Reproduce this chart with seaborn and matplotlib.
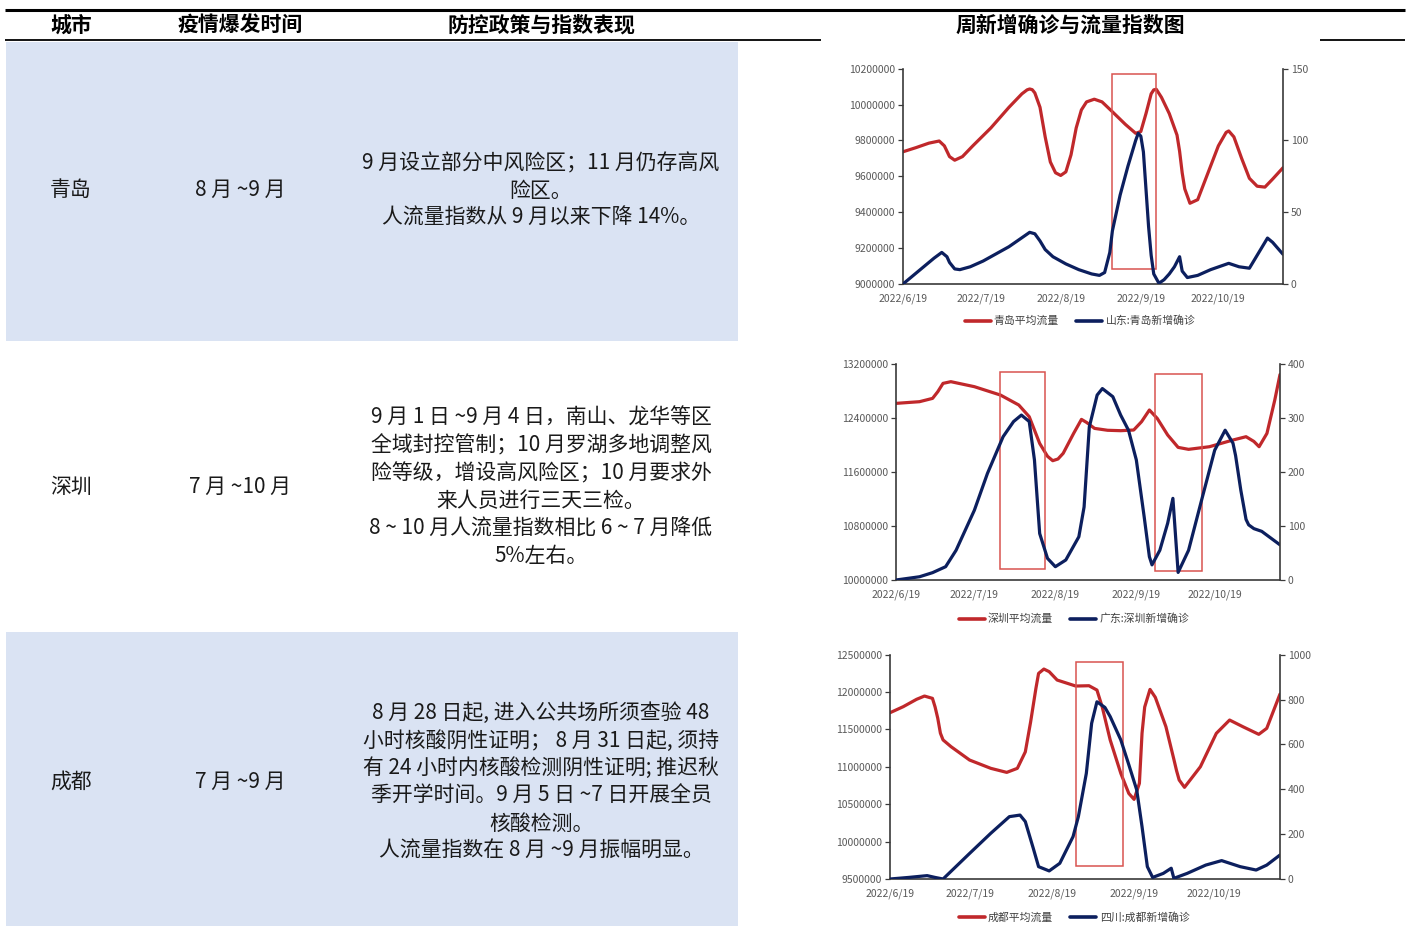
import numpy as np
import pandas as pd
import matplotlib
matplotlib.use("Agg")
import matplotlib.pyplot as plt
import matplotlib.dates as mdates
from matplotlib.patches import Rectangle
from matplotlib.lines import Line2D
from matplotlib.ticker import FuncFormatter
import seaborn as sns

sns.set_theme(style="white")
plt.rcParams['font.family'] = ['Noto Sans CJK SC', 'DejaVu Sans']
plt.rcParams['axes.unicode_minus'] = False

W, H = 1408, 926
RED = "#C0282B"
NAVY = "#0C1F5E"
BOX = "#D9534F"
FILL = "#DAE3F3"
TICKC = "#595959"
SPINE = "#3A3A3A"

# ---------------- table content ----------------
headers = ["城市", "疫情爆发时间", "防控政策与指数表现", "周新增确诊与流量指数图"]
cities = ["青岛", "深圳", "成都"]
outbreak = ["8 月 ~9 月", "7 月 ~10 月", "7 月 ~9 月"]
policy_qd = ["9 月设立部分中风险区；11 月仍存高风", "险区。", "人流量指数从 9 月以来下降 14%。"]
policy_sz = ["9 月 1 日 ~9 月 4 日，南山、龙华等区", "全域封控管制；10 月罗湖多地调整风",
             "险等级，增设高风险区；10 月要求外", "来人员进行三天三检。",
             "8 ~ 10 月人流量指数相比 6 ~ 7 月降低", "5%左右。"]
policy_cd = ["8 月 28 日起, 进入公共场所须查验 48", "小时核酸阴性证明； 8 月 31 日起, 须持",
             "有 24 小时内核酸检测阴性证明; 推迟秋", "季开学时间。9 月 5 日 ~7 日开展全员",
             "核酸检测。", "人流量指数在 8 月 ~9 月振幅明显。"]

# ---------------- Qingdao ----------------
qd_flow_dates = ["2022-06-19", "2022-06-24", "2022-06-29", "2022-07-03", "2022-07-05", "2022-07-07",
                 "2022-07-09", "2022-07-12", "2022-07-16", "2022-07-23", "2022-07-30", "2022-08-04",
                 "2022-08-06", "2022-08-07", "2022-08-08", "2022-08-09", "2022-08-11", "2022-08-13",
                 "2022-08-15", "2022-08-17", "2022-08-19", "2022-08-21", "2022-08-23", "2022-08-25",
                 "2022-08-27", "2022-08-29", "2022-09-01", "2022-09-04", "2022-09-08", "2022-09-13",
                 "2022-09-17", "2022-09-19", "2022-09-21", "2022-09-23", "2022-09-24", "2022-09-25",
                 "2022-09-27", "2022-09-30", "2022-10-03", "2022-10-04", "2022-10-05", "2022-10-06",
                 "2022-10-08", "2022-10-11", "2022-10-15", "2022-10-19", "2022-10-22", "2022-10-23",
                 "2022-10-25", "2022-10-28", "2022-10-31", "2022-11-03", "2022-11-06", "2022-11-09",
                 "2022-11-13"]
qd_flow = [9737000, 9760000, 9785000, 9797000, 9770000, 9710000, 9690000, 9710000, 9770000, 9870000,
           9985000, 10060000, 10082000, 10087000, 10083000, 10065000, 9985000, 9820000, 9680000,
           9620000, 9605000, 9625000, 9720000, 9870000, 9970000, 10015000, 10030000, 10015000,
           9960000, 9890000, 9840000, 9850000, 9950000, 10060000, 10082000, 10085000, 10040000,
           9950000, 9830000, 9740000, 9620000, 9530000, 9450000, 9470000, 9620000, 9770000, 9845000,
           9853000, 9820000, 9700000, 9589000, 9545000, 9540000, 9585000, 9648000]
qd_case_dates = ["2022-06-19", "2022-06-23", "2022-06-27", "2022-07-01", "2022-07-04", "2022-07-06",
                 "2022-07-07", "2022-07-09", "2022-07-11", "2022-07-15", "2022-07-20", "2022-07-25",
                 "2022-07-30", "2022-08-03", "2022-08-07", "2022-08-09", "2022-08-11", "2022-08-13",
                 "2022-08-16", "2022-08-21", "2022-08-26", "2022-08-31", "2022-09-03", "2022-09-05",
                 "2022-09-07", "2022-09-08", "2022-09-11", "2022-09-14", "2022-09-17", "2022-09-18",
                 "2022-09-19", "2022-09-20", "2022-09-21", "2022-09-22", "2022-09-23", "2022-09-24",
                 "2022-09-26", "2022-09-28", "2022-09-30", "2022-10-02", "2022-10-04", "2022-10-05",
                 "2022-10-07", "2022-10-11", "2022-10-16", "2022-10-23", "2022-10-27", "2022-10-31",
                 "2022-11-03", "2022-11-07", "2022-11-09", "2022-11-13"]
qd_cases = [0, 6, 12, 18, 22, 19, 15, 10.5, 10, 12, 16, 21, 26, 31, 36, 35, 30, 24, 19, 14, 10, 7,
            6, 8, 22, 37, 62, 82, 100, 105, 103, 92, 66, 40, 20, 7, 0.5, 3, 7, 12, 19, 9, 4.5, 6, 10,
            14.4, 12, 11, 20, 32, 29, 20.7]
qd_box_dates = ["2022-09-08", "2022-09-25"]
qd_box_vals = [9083000, 10170000]

# ---------------- Shenzhen ----------------
sz_flow_dates = ["2022-06-19", "2022-06-28", "2022-07-03", "2022-07-05", "2022-07-07", "2022-07-10",
                 "2022-07-19", "2022-07-29", "2022-08-05", "2022-08-09", "2022-08-13", "2022-08-16",
                 "2022-08-18", "2022-08-20", "2022-08-22", "2022-08-26", "2022-08-29", "2022-08-31",
                 "2022-09-03", "2022-09-08", "2022-09-13", "2022-09-18", "2022-09-21", "2022-09-24",
                 "2022-09-27", "2022-10-01", "2022-10-05", "2022-10-09", "2022-10-17", "2022-10-26",
                 "2022-10-31", "2022-11-03", "2022-11-05", "2022-11-08", "2022-11-11", "2022-11-13"]
sz_flow = [12613000, 12638000, 12687000, 12786000, 12909000, 12934000, 12860000, 12736000, 12589000,
           12416000, 12021000, 11830000, 11765000, 11790000, 11874000, 12169000, 12376000, 12330000,
           12243000, 12215000, 12209000, 12219000, 12342000, 12515000, 12391000, 12145000, 11962000,
           11933000, 11972000, 12071000, 12120000, 12050000, 11972000, 12169000, 12662000, 13040000]
sz_case_dates = ["2022-06-19", "2022-06-28", "2022-07-03", "2022-07-08", "2022-07-12", "2022-07-19",
                 "2022-07-24", "2022-07-30", "2022-08-03", "2022-08-06", "2022-08-09", "2022-08-11",
                 "2022-08-13", "2022-08-16", "2022-08-19", "2022-08-23", "2022-08-28", "2022-08-30",
                 "2022-09-01", "2022-09-04", "2022-09-06", "2022-09-10", "2022-09-13", "2022-09-16",
                 "2022-09-19", "2022-09-22", "2022-09-24", "2022-09-25", "2022-09-28", "2022-10-01",
                 "2022-10-03", "2022-10-05", "2022-10-09", "2022-10-14", "2022-10-19", "2022-10-23",
                 "2022-10-26", "2022-10-27", "2022-10-29", "2022-10-31", "2022-11-01", "2022-11-03",
                 "2022-11-06", "2022-11-13"]
sz_cases = [0, 6, 13.6, 24.6, 55, 129, 197, 265, 293, 305, 293, 222, 86, 40, 24.6, 37, 80, 135,
            283, 342, 354, 339, 305, 277, 222, 117, 43, 28, 55, 105, 151, 14, 55, 148, 240, 277,
            253, 230, 166, 112, 102, 95, 90, 65]
sz_box1_dates = ["2022-07-29", "2022-08-15"]
sz_box1_vals = [10163000, 13077000]
sz_box2_dates = ["2022-09-26", "2022-10-14"]
sz_box2_vals = [10133000, 13049000]

# ---------------- Chengdu ----------------
cd_flow_dates = ["2022-06-19", "2022-06-24", "2022-06-29", "2022-07-02", "2022-07-05", "2022-07-06",
                 "2022-07-07", "2022-07-08", "2022-07-09", "2022-07-12", "2022-07-19", "2022-07-27",
                 "2022-08-02", "2022-08-06", "2022-08-09", "2022-08-11", "2022-08-13", "2022-08-14",
                 "2022-08-16", "2022-08-18", "2022-08-21", "2022-08-28", "2022-09-02", "2022-09-05",
                 "2022-09-07", "2022-09-10", "2022-09-14", "2022-09-17", "2022-09-19", "2022-09-21",
                 "2022-09-22", "2022-09-23", "2022-09-25", "2022-09-27", "2022-10-01", "2022-10-04",
                 "2022-10-05", "2022-10-06", "2022-10-08", "2022-10-14", "2022-10-20", "2022-10-25",
                 "2022-10-30", "2022-11-05", "2022-11-08", "2022-11-13"]
cd_flow = [11724000, 11805000, 11903000, 11947000, 11916000, 11800000, 11650000, 11450000, 11360000,
           11270000, 11091000, 10980000, 10926000, 10980000, 11200000, 11600000, 12050000, 12250000,
           12308000, 12273000, 12161000, 12081000, 12085000, 12027000, 11800000, 11359000, 10913000,
           10645000, 10565000, 10779000, 11450000, 11800000, 12036000, 11930000, 11537000, 11100000,
           10950000, 10824000, 10726000, 11002000, 11448000, 11626000, 11537000, 11435000, 11515000,
           11974000]
cd_case_dates = ["2022-06-19", "2022-06-26", "2022-07-03", "2022-07-06", "2022-07-09", "2022-07-19",
                 "2022-07-27", "2022-08-03", "2022-08-07", "2022-08-09", "2022-08-12", "2022-08-14",
                 "2022-08-18", "2022-08-22", "2022-08-27", "2022-08-29", "2022-09-01", "2022-09-03",
                 "2022-09-05", "2022-09-08", "2022-09-10", "2022-09-14", "2022-09-17", "2022-09-20",
                 "2022-09-22", "2022-09-24", "2022-09-26", "2022-09-30", "2022-10-03", "2022-10-04",
                 "2022-10-09", "2022-10-16", "2022-10-22", "2022-10-29", "2022-11-04", "2022-11-08",
                 "2022-11-13"]
cd_cases = [0, 7, 15, 7, 0, 114, 204, 278, 285, 256, 137, 55, 36, 70, 189, 278, 471, 694, 790, 765,
            724, 620, 510, 397, 233, 55, 7, 25, 48, 3, 25, 62, 82, 55, 40, 62, 107]
cd_box_dates = ["2022-08-28", "2022-09-15"]
cd_box_vals = [9678000, 12397000]

date_ticks = ["2022-06-19", "2022-07-19", "2022-08-19", "2022-09-19", "2022-10-19"]
x_range = ["2022-06-19", "2022-11-13"]

# ---------------- figure & table ----------------
fig = plt.figure(figsize=(W / 100, H / 100), dpi=100)
bg = fig.add_axes([0, 0, 1, 1], zorder=0)
bg.set_xlim(0, W)
bg.set_ylim(H, 0)
bg.axis("off")

bg.add_patch(Rectangle((6, 42), 732, 299, color=FILL, lw=0))
bg.add_patch(Rectangle((6, 632), 732, 294, color=FILL, lw=0))
bg.plot([5, 1405], [10, 10], color="black", lw=2.2, solid_capstyle="butt")
bg.plot([5, 821], [40, 40], color="black", lw=1.3, solid_capstyle="butt")
bg.plot([1320, 1405], [40, 40], color="black", lw=1.3, solid_capstyle="butt")

for x, s in zip([71, 240, 541, 1070], headers):
    bg.text(x, 25, s, ha="center", va="center", fontsize=15, fontweight="bold", color="black")

row_y = [190, 487, 782]
for y, c, o in zip(row_y, cities, outbreak):
    bg.text(71, y, c, ha="center", va="center", fontsize=15, fontweight="light", color="#1a1a1a")
    bg.text(240, y, o, ha="center", va="center", fontsize=15, fontweight="light", color="#1a1a1a")

for lines, y0 in [(policy_qd, 163), (policy_sz, 418), (policy_cd, 713)]:
    for i, s in enumerate(lines):
        bg.text(541, y0 + i * 27.6, s, ha="center", va="center", fontsize=15,
                fontweight="light", color="#1a1a1a")


def date_fmt(v, pos):
    d = mdates.num2date(v)
    return f"{d.year}/{d.month}/{d.day}"


def draw_chart(px, fdates, fvals, cdates, cvals, lrange, lstep, rrange, rstep, boxes, labels, leg_xy):
    l, t, r, b = px
    ax = fig.add_axes([l / W, 1 - b / H, (r - l) / W, (b - t) / H], zorder=2)
    ax.patch.set_alpha(0)
    ax2 = ax.twinx()
    sns.lineplot(x=pd.to_datetime(fdates), y=fvals, ax=ax, color=RED, lw=2.3, legend=False,
                 solid_joinstyle="round", solid_capstyle="round")
    sns.lineplot(x=pd.to_datetime(cdates), y=cvals, ax=ax2, color=NAVY, lw=2.3, legend=False,
                 solid_joinstyle="round", solid_capstyle="round")

    for (d0, d1), (v0, v1) in boxes:
        x0 = mdates.date2num(pd.Timestamp(d0))
        x1 = mdates.date2num(pd.Timestamp(d1))
        ax.add_patch(Rectangle((x0, v0), x1 - x0, v1 - v0, fill=False, ec=BOX, lw=1.1, zorder=5))

    ax.set_xlim(pd.Timestamp(x_range[0]), pd.Timestamp(x_range[1]))
    ax.set_ylim(*lrange)
    ax2.set_ylim(*rrange)
    ax.set_yticks(np.arange(lrange[0], lrange[1] + 1, lstep))
    ax2.set_yticks(np.arange(rrange[0], rrange[1] + 1, rstep))
    ax.set_xticks(pd.to_datetime(date_ticks))
    ax.xaxis.set_major_formatter(FuncFormatter(date_fmt))
    ax.yaxis.set_major_formatter(FuncFormatter(lambda v, p: f"{int(round(v))}"))
    ax2.yaxis.set_major_formatter(FuncFormatter(lambda v, p: f"{int(round(v))}"))
    for a in (ax, ax2):
        a.set_xlabel("")
        a.set_ylabel("")
        a.grid(False)
        a.tick_params(direction="out", length=3.5, width=0.9, color=SPINE,
                      labelsize=7.5, labelcolor=TICKC, pad=2)
    ax.tick_params(axis="x", pad=3)
    for side in ("top", "right"):
        ax.spines[side].set_visible(False)
    for side in ("top", "left", "bottom"):
        ax2.spines[side].set_visible(False)
    for sp in (ax.spines["left"], ax.spines["bottom"], ax2.spines["right"]):
        sp.set_color(SPINE)
        sp.set_linewidth(1.2)

    handles = [Line2D([], [], color=RED, lw=2.6), Line2D([], [], color=NAVY, lw=2.6)]
    fig.legend(handles, labels, loc="center", bbox_to_anchor=(leg_xy[0] / W, 1 - leg_xy[1] / H),
               ncol=2, frameon=False, fontsize=7.8, labelcolor="#404040",
               handlelength=2.4, handletextpad=0.3, columnspacing=1.6)


draw_chart((903, 68.7, 1283, 284), qd_flow_dates, qd_flow, qd_case_dates, qd_cases,
           (9000000, 10200000), 200000, (0, 150), 50,
           [(qd_box_dates, qd_box_vals)], ["青岛平均流量", "山东:青岛新增确诊"], (1080, 321))
draw_chart((896, 363.7, 1280, 580), sz_flow_dates, sz_flow, sz_case_dates, sz_cases,
           (10000000, 13200000), 800000, (0, 400), 100,
           [(sz_box1_dates, sz_box1_vals), (sz_box2_dates, sz_box2_vals)],
           ["深圳平均流量", "广东:深圳新增确诊"], (1074, 619))
draw_chart((890, 654.7, 1280, 879), cd_flow_dates, cd_flow, cd_case_dates, cd_cases,
           (9500000, 12500000), 500000, (0, 1000), 200,
           [(cd_box_dates, cd_box_vals)], ["成都平均流量", "四川:成都新增确诊"], (1074, 917))

fig.savefig("out.png", dpi=100)
